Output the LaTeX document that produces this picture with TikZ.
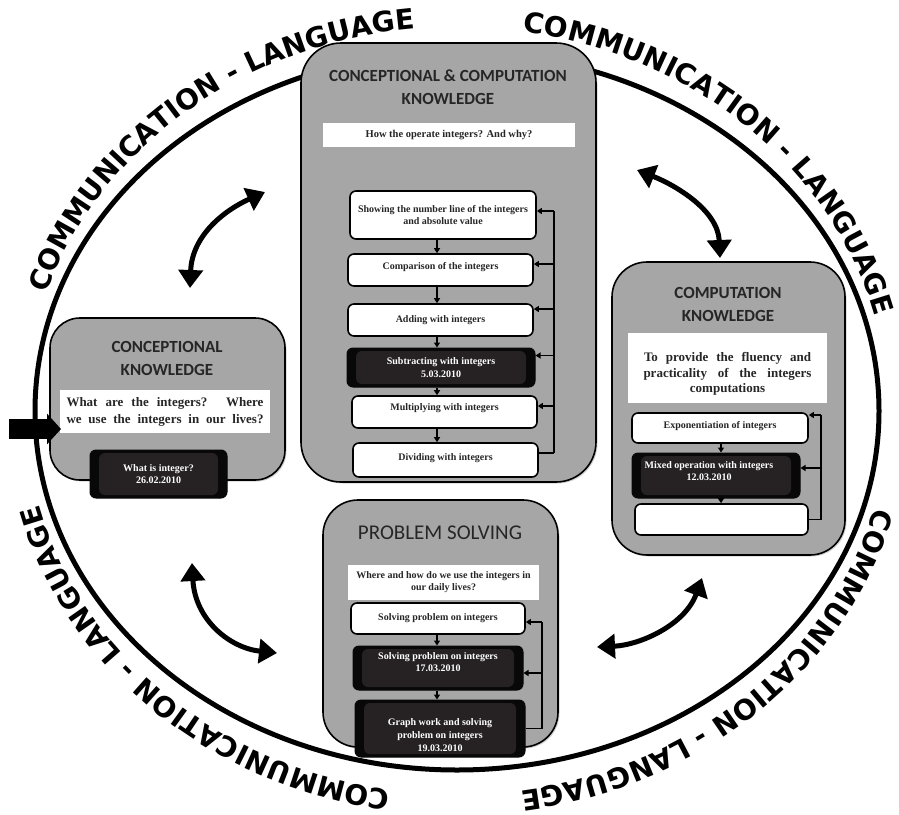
\documentclass[tikz,border=0pt]{standalone}
\usepackage{fontspec}
\setmainfont{Liberation Serif}
\newfontfamily\titlefont{Carlito}
\newfontfamily\commfont{DejaVu Sans}
\usetikzlibrary{arrows.meta,decorations.text,calc,shadows}
\definecolor{boxgray}{RGB}{166,166,166}
\definecolor{darkfill}{RGB}{38,34,35}
\definecolor{darkedge}{RGB}{8,8,8}
\tikzset{
  bigbox/.style={draw=black, line width=1.6pt, fill=boxgray, inner sep=0pt,
    drop shadow={shadow xshift=1.5pt, shadow yshift=-1.5pt, opacity=0.35}},
  titletext/.style={font=\titlefont\bfseries\fontsize{17}{23}\selectfont, align=center, text=black!85, inner sep=0pt},
  qbox/.style={fill=white, inner sep=0pt, font=\bfseries\fontsize{10}{12}\selectfont, align=center, text=black!85},
  stepbox/.style={draw=black, line width=1.6pt, fill=white, rounded corners=6pt, inner sep=0pt,
    font=\bfseries\fontsize{10}{12.5}\selectfont, align=center, text=black!85},
  darkbox/.style={draw=darkedge, line width=1pt, fill=darkedge, rounded corners=6pt, inner sep=0pt,
    font=\bfseries\fontsize{10}{12.5}\selectfont, align=center, text=white,
    path picture={\fill[darkfill] ([xshift=9pt,yshift=3pt]path picture bounding box.south west) rectangle ([xshift=-9pt,yshift=-3pt]path picture bounding box.north east);}},
  flow/.style={line width=1.6pt, -{Triangle[length=5pt,width=6pt]}},
  fbline/.style={line width=1.6pt},
  dblarrow/.style={line width=5pt, {Triangle[length=18pt,width=24pt]}-{Triangle[length=18pt,width=24pt]}},
  commtext/.style={decorate, decoration={text along path, text align=center,
    text={|\commfont\bfseries\fontsize{28}{28}\selectfont|COMMUNICATION - LANGUAGE}}},
}
\begin{document}
\begin{tikzpicture}[x=1pt,y=1pt]
\useasboundingbox (0,0) rectangle (899,-814);
\fill[white] (0,0) rectangle (899,-814);

% big ellipse
\coordinate (C) at (457,-411);
\draw[line width=5pt] (C) ellipse [x radius=422, y radius=359];

% text around the ellipse
\path[commtext] ($(C)+(174.5:431 and 384)$) arc[start angle=174.5, end angle=84.5, x radius=431, y radius=384];
\path[commtext] ($(C)+(92.1:431 and 384)$) arc[start angle=92.1, end angle=2.1, x radius=431, y radius=384];
\path[commtext] ($(C)+(-2.4:431 and 384)$) arc[start angle=-2.4, end angle=-92.4, x radius=431, y radius=384];
\path[commtext] ($(C)+(-88:431 and 384)$) arc[start angle=-88, end angle=-178, x radius=431, y radius=384];

% ---------- centre box ----------
\node[bigbox, rounded corners=40pt, minimum width=295pt, minimum height=439pt] (cbox) at (448.5,-262.5) {};
\node[titletext] (ctitle) at (448,-87) {CONCEPTIONAL \& COMPUTATION\\KNOWLEDGE};
\node[qbox, minimum width=252pt, minimum height=24pt, font=\bfseries\fontsize{10.5}{12}\selectfont] (cq) at (449,-135) {How the operate integers? And why?};
\node[stepbox, minimum width=186pt, minimum height=48pt] (b1) at (443,-215) {Showing the number line of the integers\\and absolute value};
\node[stepbox, minimum width=185pt, minimum height=32pt, text depth=9pt] (b2) at (440.5,-270) {Comparison of the integers};
\node[stepbox, minimum width=185pt, minimum height=32pt] (b3) at (440.5,-320) {Adding with integers};
\node[darkbox, minimum width=188pt, minimum height=39pt] (b4) at (441,-367.5) {Subtracting with integers\\5.03.2010};
\node[stepbox, minimum width=185pt, minimum height=32pt, text depth=9pt] (b5) at (444.5,-412) {Multiplying with integers};
\node[stepbox, minimum width=185pt, minimum height=34pt, text depth=6pt] (b6) at (445.5,-460) {Dividing with integers};
\coordinate (cax) at (437,-200);
\draw[flow] (cax |- b1.south) -- (cax |- b2.north);
\draw[flow] (cax |- b2.south) -- (cax |- b3.north);
\draw[flow] (cax |- b3.south) -- (cax |- b4.north);
\draw[flow] (cax |- b4.south) -- (cax |- b5.north);
\draw[flow] (cax |- b5.south) -- (cax |- b6.north);
\coordinate (cfb) at (554,-200);
\draw[fbline] ([yshift=4pt]b1.east -| cfb) -- ([yshift=7pt]b6.east -| cfb);
\draw[flow] ([yshift=4pt]b1.east -| cfb) -- ([yshift=4pt]b1.east);
\draw[flow] ([yshift=6pt]b2.east -| cfb) -- ([yshift=6pt]b2.east);
\draw[flow] ([yshift=11pt]b3.east -| cfb) -- ([yshift=11pt]b3.east);
\draw[flow] ([yshift=12pt]b4.east -| cfb) -- ([yshift=12pt]b4.east);
\draw[flow] ([yshift=6pt]b5.east -| cfb) -- ([yshift=6pt]b5.east);
\draw[fbline] ([yshift=7pt]b6.east -| cfb) -- ([yshift=7pt]b6.east);

% ---------- left box ----------
\node[bigbox, rounded corners=30pt, minimum width=235pt, minimum height=162pt] (lbox) at (167.5,-399) {};
\node[titletext] (ltitle) at (167,-358.5) {CONCEPTIONAL\\KNOWLEDGE};
\node[qbox, minimum width=210pt, minimum height=43pt, font=\bfseries\fontsize{13}{17}\selectfont] (lq) at (165,-411.5)
  {\makebox[197pt][s]{What are the integers? Where}\\\makebox[197pt][s]{we use the integers in our lives?}};
\node[darkbox, minimum width=137pt, minimum height=48pt, font=\bfseries\fontsize{10}{12.5}\selectfont] (ld) at (158.5,-474) {What is integer?\\26.02.2010};
\coordinate (lastart) at (9,-429);
\coordinate (latip) at (61,-429);
\draw[line width=20pt, -{Triangle[length=14pt,width=30pt]}] (lastart) -- (latip);

% ---------- right box ----------
\node[bigbox, rounded corners=35pt, minimum width=233pt, minimum height=293pt] (rbox) at (728.5,-408.5) {};
\node[titletext] (rtitle) at (728,-304) {COMPUTATION\\KNOWLEDGE};
\node[qbox, minimum width=199pt, minimum height=70pt] (rq) at (727.5,-368) {};
\node[font=\bfseries\fontsize{13}{15.5}\selectfont, align=center, text=black!85, inner sep=0pt] (rqt) at (727.5,-374)
  {\makebox[167pt][s]{To provide the fluency and}\\\makebox[168pt][s]{practicality of the integers}\\computations};
\node[stepbox, minimum width=176pt, minimum height=30pt, text depth=6pt] (r1) at (720,-428) {Exponentiation of integers};
\node[darkbox, minimum width=168pt, minimum height=45pt] (r2) at (716,-475.5) {};
\node[font=\bfseries\fontsize{10}{12.5}\selectfont, align=center, text=white, inner sep=0pt] (r2t) at (709,-471) {Mixed operation with integers\\12.03.2010};
\node[stepbox, minimum width=173pt, minimum height=31pt] (r3) at (721.5,-519.5) {};
\coordinate (rax) at (721,-400);
\draw[flow] (rax |- r1.south) -- (rax |- r2.north);
\draw[flow] (rax |- r2.south) -- (rax |- r3.north);
\coordinate (rfb) at (821,-400);
\draw[fbline] ([yshift=13pt]r1.east -| rfb) -- (r3.east -| rfb);
\draw[flow] ([yshift=13pt]r1.east -| rfb) -- ([yshift=13pt]r1.east);
\draw[flow] ([yshift=7.5pt]r2.east -| rfb) -- ([yshift=7.5pt]r2.east);
\draw[fbline] (r3.east -| rfb) -- (r3.east);

% ---------- bottom box ----------
\node[bigbox, rounded corners=35pt, minimum width=235pt, minimum height=247pt] (pbox) at (440.5,-623.5) {};
\node[font=\titlefont\fontsize{21}{24}\selectfont, text=black!85, inner sep=0pt] (ptitle) at (440,-533) {PROBLEM SOLVING};
\node[qbox, minimum width=191pt, minimum height=35pt] (pq) at (443.5,-582.5) {Where and how do we use the integers in\\our daily lives?};
\node[stepbox, minimum width=174pt, minimum height=31pt] (p1) at (438,-618.5) {Solving problem on integers};
\node[darkbox, minimum width=170pt, minimum height=44pt] (p2) at (438,-668) {};
\node[font=\bfseries\fontsize{10}{12}\selectfont, align=center, text=white, inner sep=0pt] (p2t) at (438,-662.5) {Solving problem on integers\\17.03.2010};
\node[darkbox, minimum width=170pt, minimum height=57pt, font=\bfseries\fontsize{10}{13}\selectfont] (p3) at (440,-728.5) {};
\node[font=\bfseries\fontsize{10}{13}\selectfont, align=center, text=white, inner sep=0pt] (p3t) at (440,-735) {Graph work and solving\\problem on integers\\19.03.2010};
\coordinate (pax) at (437,-600);
\draw[flow] (pax |- p1.south) -- (pax |- p2.north);
\draw[flow] (pax |- p2.south) -- (pax |- p3.north);
\coordinate (pfb) at (542,-600);
\draw[fbline] ([yshift=-3.5pt]p1.east -| pfb) -- (p3.east -| pfb);
\draw[flow] ([yshift=-3.5pt]p1.east -| pfb) -- ([yshift=-3.5pt]p1.east);
\draw[flow] ([yshift=-5pt]p2.east -| pfb) -- ([yshift=-5pt]p2.east);
\draw[fbline] (p3.east -| pfb) -- (p3.east);

% ---------- curved double arrows ----------
\coordinate (ula) at (190,-288);
\coordinate (ulb) at (265,-192);
\draw[dblarrow] (ula) .. controls (192,-235) and (225,-210) .. (ulb);
\coordinate (ura) at (637,-170);
\coordinate (urb) at (720,-258);
\draw[dblarrow] (ura) .. controls (675,-185) and (718,-210) .. (urb);
\coordinate (lla) at (192,-563);
\coordinate (llb) at (277,-653);
\draw[dblarrow] (lla) .. controls (195,-620) and (230,-648) .. (llb);
\coordinate (lra) at (597,-647);
\coordinate (lrb) at (702,-578);
\draw[dblarrow] (lra) .. controls (640,-645) and (685,-625) .. (lrb);
\end{tikzpicture}
\end{document}
